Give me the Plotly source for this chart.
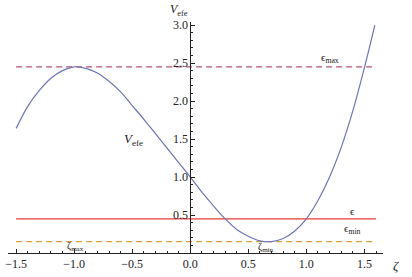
import plotly.graph_objects as go

# Curve V_efe(zeta), values
zeta = [-1.5, -1.4, -1.3, -1.2, -1.1, -1.0, -0.9, -0.8, -0.7, -0.6, -0.5, -0.4, -0.3, -0.2, -0.1,
        0.0, 0.1, 0.2, 0.3, 0.4, 0.5, 0.6, 0.7, 0.8, 0.9, 1.0, 1.1, 1.2, 1.3, 1.4, 1.5, 1.59]
v_efe = [1.64, 1.93, 2.14, 2.30, 2.40, 2.45, 2.43, 2.37, 2.26, 2.12, 1.94, 1.76, 1.57, 1.38, 1.19,
         1.00, 0.80, 0.62, 0.45, 0.31, 0.22, 0.16, 0.15, 0.19, 0.29, 0.45, 0.69, 1.00, 1.39, 1.87, 2.44, 3.00]

# Horizontal energy levels
line_span = [-1.5, 1.6]
eps_max = 2.45
eps = 0.45
eps_min = 0.15

x_ticks = [-1.5, -1.0, -0.5, 0.0, 0.5, 1.0, 1.5]
x_labels = ["\u22121.5", "\u22121.0", "\u22120.5", "0.0", "0.5", "1.0", "1.5"]
y_ticks = [0.5, 1.0, 1.5, 2.0, 2.5, 3.0]
y_labels = ["0.5", "1.0", "1.5", "2.0", "2.5", "3.0"]

x_range = [-1.57, 1.66]
y_range = [0.0, 3.04]

serif = "Liberation Serif"

fig = go.Figure()
fig.add_trace(go.Scatter(x=line_span, y=[eps_max, eps_max], mode="lines",
                         line=dict(color="#B5507C", width=1.3, dash="6px,4px"), hoverinfo="skip"))
fig.add_trace(go.Scatter(x=line_span, y=[eps, eps], mode="lines",
                         line=dict(color="#EE3B3B", width=1.3), hoverinfo="skip"))
fig.add_trace(go.Scatter(x=line_span, y=[eps_min, eps_min], mode="lines",
                         line=dict(color="#D4A040", width=1.3, dash="6px,4px"), hoverinfo="skip"))
fig.add_trace(go.Scatter(x=zeta, y=v_efe, mode="lines", line_shape="spline",
                         line=dict(color="#6C75B5", width=1.2)))

ann = [
    dict(x=-0.49, y=1.49, text="<i>V</i><sub>efe</sub>", size=13),
    dict(x=1.20, y=2.57, text="\u03f5<sub>max</sub>", size=11),
    dict(x=1.40, y=0.55, text="\u03f5", size=11),
    dict(x=1.40, y=0.32, text="\u03f5<sub>min</sub>", size=11),
    dict(x=-0.99, y=0.08, text="\u03b6<sub>max</sub>", size=10),
    dict(x=0.65, y=0.07, text="\u03b6<sub>min</sub>", size=10),
]
for a in ann:
    fig.add_annotation(x=a["x"], y=a["y"], text=a["text"], showarrow=False,
                       font=dict(family=serif, size=a["size"], color="#222"))

fig.add_annotation(x=-0.1, y=3.04, yshift=12, text="<i>V</i><sub>efe</sub>", showarrow=False,
                   font=dict(family=serif, size=12, color="#222"))
fig.add_annotation(x=1.66, y=0, xshift=13, yshift=-12, text="<i>\u03b6</i>", showarrow=False,
                   font=dict(family=serif, size=13, color="#222"))

fig.update_layout(
    width=412, height=277,
    margin=dict(l=8, r=29, t=22, b=24, autoexpand=False),
    paper_bgcolor="white", plot_bgcolor="white",
    showlegend=False,
    xaxis=dict(range=x_range, showgrid=False, zeroline=False, showline=True, automargin=False,
               linecolor="#222", linewidth=1, ticks="inside", ticklen=4, tickcolor="#222",
               tickvals=x_ticks, ticktext=x_labels,
               minor=dict(dtick=0.1, ticks="inside", ticklen=2, tickcolor="#222", showgrid=False),
               tickfont=dict(family=serif, size=12, color="#222")),
    yaxis=dict(range=y_range, showgrid=False, zeroline=False, showline=True, automargin=False,
               anchor="free", position=(0 - x_range[0]) / (x_range[1] - x_range[0]),
               linecolor="#222", linewidth=1, ticks="inside", ticklen=4, tickcolor="#222",
               tickvals=y_ticks, ticktext=y_labels,
               minor=dict(dtick=0.1, ticks="inside", ticklen=2, tickcolor="#222", showgrid=False),
               tickfont=dict(family=serif, size=12, color="#222")),
)

fig.write_html("out.html", config={"displayModeBar": False},
               post_script="document.body.style.margin='0';document.body.style.overflow='hidden';")
